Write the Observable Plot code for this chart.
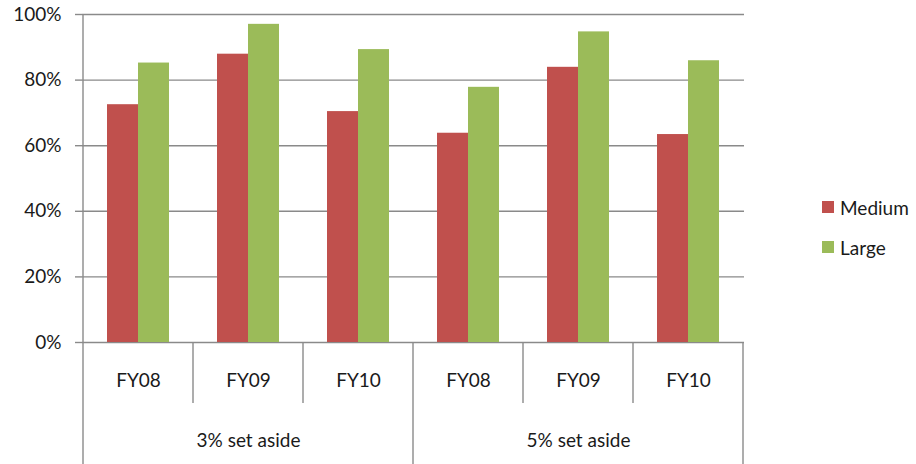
<!DOCTYPE html>
<html>
<head>
<meta charset="utf-8">
<script src="https://cdn.jsdelivr.net/npm/d3@7"></script>
<script src="https://cdn.jsdelivr.net/npm/@observablehq/plot@0.6"></script>
<style>
  html, body { margin: 0; padding: 0; background: #fff; }
  #wrap { position: relative; width: 916px; height: 464px; font-family: Lato, "DejaVu Sans", sans-serif; color: #1a1a1a; }
  #wrap svg { position: absolute; left: 0; top: 0; }
  #legend { position: absolute; left: 822px; top: 196px; font-size: 19px; }
  .item { display: flex; align-items: center; height: 22px; margin-bottom: 18px; }
  .sw { width: 12px; height: 12px; margin-right: 6px; }
</style>
</head>
<body>
<div id="wrap"><div id="legend"></div></div>
<script>
const groups = ["3% set aside", "5% set aside"];
const years = ["FY08", "FY09", "FY10"];
const series = ["Medium", "Large"];
const medium = [0.725, 0.879, 0.704, 0.638, 0.839, 0.634];
const large  = [0.852, 0.970, 0.893, 0.778, 0.947, 0.859];
const yTicks = [0, 0.2, 0.4, 0.6, 0.8, 1.0];
const colors = ["#C0504D", "#9BBB59"];

const categories = groups.flatMap(g => years.map(y => g + "|" + y));
const medData = categories.map((c, i) => ({cat: c, value: medium[i], series: series[0]}));
const largeData = categories.map((c, i) => ({cat: c, value: large[i], series: series[1]}));
const groupLabels = groups.map(g => ({cat: g + "|" + years[1], label: g}));

const chart = Plot.plot({
  width: 916,
  height: 464,
  marginLeft: 82,
  marginRight: 172,
  marginTop: 14,
  marginBottom: 122,
  style: {fontFamily: "Lato, 'DejaVu Sans', sans-serif", fontSize: "19px", color: "#1a1a1a", background: "transparent"},
  x: {domain: categories, padding: 0, axis: null, label: null},
  y: {domain: [0, 1], axis: null, label: null},
  marks: [
    Plot.ruleY(yTicks, {stroke: "#8a8a8a", strokeWidth: 1.4}),
    Plot.axisY(yTicks, {tickFormat: d3.format(".0%"), tickSize: 7, tickPadding: 14, stroke: "#8a8a8a", strokeWidth: 1.4, fill: "#1a1a1a", fontSize: 19, label: null}),
    Plot.barY(medData, {x: "cat", y: "value", fill: colors[0], insetLeft: 24, insetRight: 55}),
    Plot.barY(largeData, {x: "cat", y: "value", fill: colors[1], insetLeft: 55, insetRight: 24}),
    Plot.axisX(categories, {tickFormat: d => d.split("|")[1], tickSize: 0, tickPadding: 31, fill: "#1a1a1a", fontSize: 19, label: null}),
    Plot.text(groupLabels, {x: "cat", text: "label", frameAnchor: "bottom", dy: 104, fill: "#1a1a1a", fontSize: 19})
  ]
});

// category dividers drawn from the plot's own scales
const xs = chart.scale("x"), ys = chart.scale("y");
const bw = xs.bandwidth;
const y0 = ys.apply(0), yTop = ys.apply(1);
const svg = d3.select(chart);
const lines = svg.append("g").attr("stroke", "#8a8a8a").attr("stroke-width", 1.4);
categories.forEach((c, i) => {
  const x = xs.apply(c);
  const isGroupEdge = i % years.length === 0;
  lines.append("line").attr("x1", x).attr("x2", x)
    .attr("y1", i === 0 ? yTop : y0).attr("y2", isGroupEdge ? 464 : y0 + 61);
});
const xEnd = xs.apply(categories[categories.length - 1]) + bw;
lines.append("line").attr("x1", xEnd).attr("x2", xEnd).attr("y1", y0).attr("y2", 464);

document.getElementById("wrap").appendChild(chart);

const legend = document.getElementById("legend");
series.forEach((s, i) => {
  const item = document.createElement("div");
  item.className = "item";
  const sw = document.createElement("div");
  sw.className = "sw";
  sw.style.background = colors[i];
  const t = document.createElement("span");
  t.textContent = s;
  item.appendChild(sw); item.appendChild(t);
  legend.appendChild(item);
});
</script>
</body>
</html>
